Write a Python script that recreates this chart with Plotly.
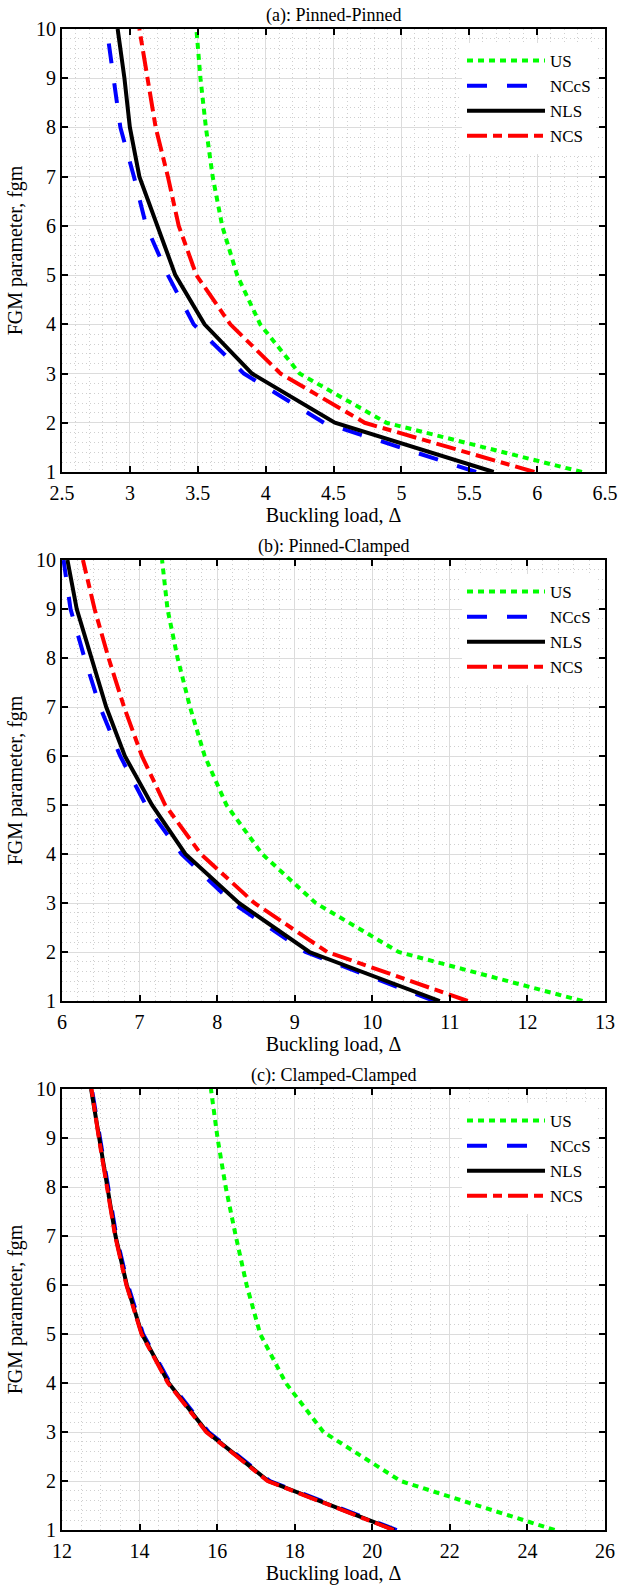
import plotly.graph_objects as go

fgm = [1, 2, 3, 4, 5, 6, 7, 8, 9, 10]

series_names = ["US", "NCcS", "NLS", "NCS"]

a_US = [6.33, 4.89, 4.25, 3.96, 3.79, 3.68, 3.61, 3.56, 3.52, 3.49]
a_NCcS = [5.55, 4.43, 3.84, 3.47, 3.28, 3.12, 3.03, 2.93, 2.88, 2.83]
a_NLS = [5.68, 4.51, 3.90, 3.55, 3.335, 3.20, 3.07, 3.00, 2.96, 2.91]
a_NCS = [5.98, 4.73, 4.11, 3.74, 3.49, 3.36, 3.28, 3.19, 3.13, 3.07]

b_US = [12.71, 10.34, 9.27, 8.58, 8.12, 7.84, 7.65, 7.49, 7.36, 7.29]
b_NCcS = [10.80, 9.14, 8.20, 7.54, 7.08, 6.75, 6.49, 6.29, 6.11, 6.02]
b_NLS = [10.87, 9.19, 8.28, 7.59, 7.16, 6.81, 6.57, 6.38, 6.19, 6.07]
b_NCS = [11.23, 9.42, 8.48, 7.79, 7.33, 7.03, 6.80, 6.60, 6.42, 6.27]

c_US = [24.70, 20.73, 18.74, 17.77, 17.11, 16.76, 16.48, 16.22, 16.01, 15.84]
c_NCcS = [20.63, 17.36, 15.78, 14.79, 14.09, 13.70, 13.40, 13.18, 12.98, 12.77]
c_NLS = [20.57, 17.32, 15.74, 14.75, 14.06, 13.67, 13.38, 13.16, 12.96, 12.75]
c_NCS = [20.55, 17.30, 15.72, 14.73, 14.05, 13.66, 13.37, 13.15, 12.95, 12.76]

panel_titles = ["(a): Pinned-Pinned", "(b): Pinned-Clamped", "(c): Clamped-Clamped"]
x_ranges = [[2.5, 6.5], [6, 13], [12, 26]]
x_dticks = [0.5, 1, 2]
x_minor = [0.1, 0.2, 0.5]
x_title = "Buckling load, \u0394"
y_title = "FGM parameter, fgm"

panels = [
    [a_US, a_NCcS, a_NLS, a_NCS],
    [b_US, b_NCcS, b_NLS, b_NCS],
    [c_US, c_NCcS, c_NLS, c_NCS],
]

W, H = 619, 1589
FONT = "Liberation Serif"
styles = [
    dict(color="#00ff00", width=4, dash="6px,5px"),
    dict(color="#0000ff", width=4, dash="20px,20px"),
    dict(color="#000000", width=4, dash="solid"),
    dict(color="#ff0000", width=4, dash="20px,6px,9px,6px"),
]

# pixel layout of the panels
left_px, right_px = 62, 605
panel_px = [(29, 472), (560, 1001), (1089, 1530)]

fig = go.Figure()
layout = dict(
    width=W, height=H,
    margin=dict(l=0, r=0, t=0, b=0),
    paper_bgcolor="white", plot_bgcolor="white",
    font=dict(family=FONT, size=19, color="black"),
    annotations=[],
)

for i, (data, (top, bot)) in enumerate(zip(panels, panel_px)):
    k = "" if i == 0 else str(i + 1)
    leg = "legend" if i == 0 else "legend" + str(i + 1)
    for name, xs, st in zip(series_names, data, styles):
        fig.add_trace(go.Scatter(
            x=xs, y=fgm, mode="lines", name=name, line=st,
            xaxis="x" + k, yaxis="y" + k, legend=leg,
        ))
    ydom = [1 - bot / H, 1 - top / H]
    axcommon = dict(
        showline=True, linecolor="black", linewidth=2, mirror="ticks",
        ticks="inside", ticklen=6, tickwidth=1.5, tickcolor="black",
        showgrid=True, gridcolor="#dcdcdc", gridwidth=1,
        zeroline=False, automargin=False,
        tickfont=dict(family=FONT, size=20, color="black"),
    )
    layout["xaxis" + k] = dict(
        axcommon, domain=[left_px / W, right_px / W], anchor="y" + k,
        range=x_ranges[i], dtick=x_dticks[i], tick0=x_ranges[i][0],
        ticklabelstandoff=2,
        minor=dict(dtick=x_minor[i], showgrid=True, gridcolor="#cfcfcf",
                   griddash="1px,3px", gridwidth=1, ticks=""),
        title=dict(text=x_title, font=dict(family=FONT, size=20), standoff=3),
    )
    layout["yaxis" + k] = dict(
        axcommon, domain=ydom, anchor="x" + k,
        range=[1, 10], dtick=1, tick0=1,
        minor=dict(dtick=0.2, showgrid=True, gridcolor="#cfcfcf",
                   griddash="1px,3px", gridwidth=1, ticks=""),
        title=dict(text=y_title, font=dict(family=FONT, size=20), standoff=8),
    )
    layout[leg] = dict(
        x=462 / W, y=1 - (top + 14) / H, xanchor="left", yanchor="top",
        bgcolor="white", borderwidth=0, itemwidth=78,
        font=dict(family=FONT, size=17, color="black"),
        tracegroupgap=0,
    )
    layout["annotations"].append(dict(
        text=panel_titles[i], x=(left_px + right_px) / 2 / W, y=1 - top / H,
        xref="paper", yref="paper", xanchor="center", yanchor="bottom",
        yshift=1, showarrow=False, font=dict(family=FONT, size=18, color="black"),
    ))

fig.update_layout(**layout)
fig.write_html("out.html")
